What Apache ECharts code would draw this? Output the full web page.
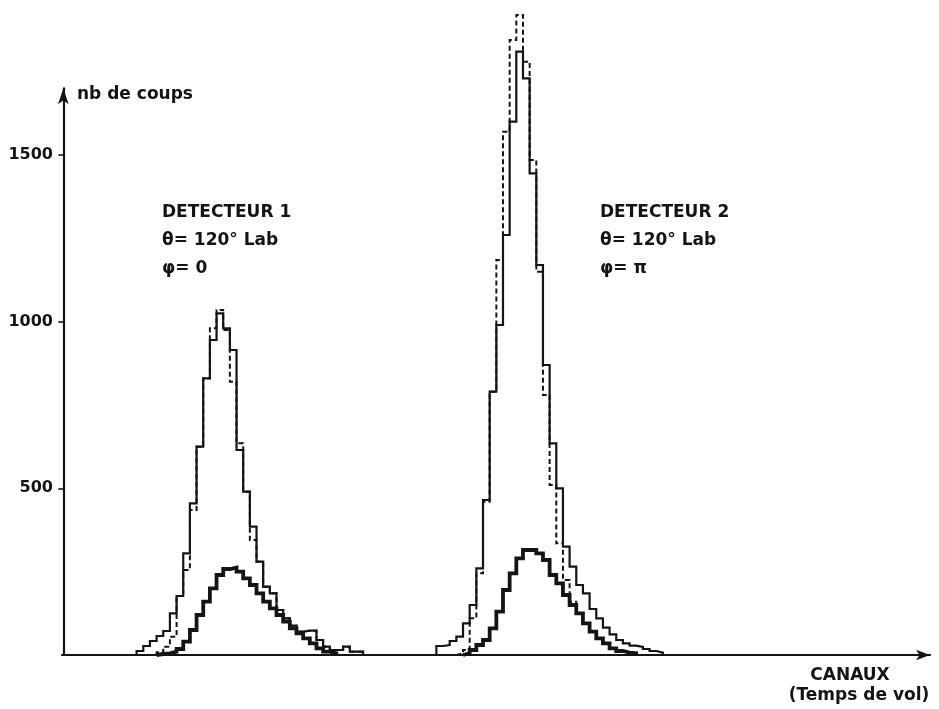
<!DOCTYPE html>
<html><head><meta charset="utf-8">
<script src="https://cdn.jsdelivr.net/npm/echarts@6/dist/echarts.min.js"></script>
<style>html,body{margin:0;padding:0;background:#fff}#c{width:939px;height:709px}</style>
</head><body><div id="c"></div>
<script>
// y tick labels
const yTickValues = [500, 1000, 1500];

// Detector 1 (channel index of first bin edge + counts per channel)
const det1TotalStart = 11;
const det1Total = [12,27,42,57,72,125,177,305,455,625,830,945,1025,980,915,615,490,385,280,205,185,135,110,88,70,73,73,45,25,15,15,25,10,10];
const det1DashedStart = 14;
const det1Dashed = [8,25,55,177,255,435,625,830,980,1035,975,820,635,490,345,280,205,185,135,110,88,70,73,73,45,25,15,15,25,10,10];
const det1ThickStart = 14;
const det1Thick = [3,5,10,18,40,75,120,160,200,240,258,262,250,230,210,185,160,140,120,100,80,65,50,35,20,10,5];

// Detector 2
const det2TotalStart = 56;
const det2Total = [27,30,42,55,95,150,260,465,790,990,1260,1600,1810,1730,1445,1170,870,635,500,325,265,210,185,138,110,82,62,45,35,28,24,18,12,7];
const det2DashedStart = 59;
const det2Dashed = [5,15,110,245,460,790,1185,1570,1845,1920,1780,1485,1150,780,510,335,225,160,125,95,70,50,35,20,12,7,5];
const det2ThickStart = 60;
const det2Thick = [5,15,30,45,80,130,195,245,290,315,315,305,285,240,215,180,150,125,95,70,50,35,20,12,7,5];

const FONT = '"DejaVu Sans", sans-serif';
const INK = '#141414';

function steps(start, vals) {
  const pts = [[start, 0]];
  vals.forEach((v, i) => pts.push([start + i, v]));
  pts.push([start + vals.length, 0]);
  return pts;
}
function hist(start, vals, kind) {
  const ls = kind === 'thick' ? {width: 3.8, type: 'solid'}
           : kind === 'dashed' ? {width: 2, type: [5, 3]}
           : {width: 2.2, type: 'solid'};
  return {
    type: 'line', step: 'end', symbol: 'none', clip: false, silent: true,
    data: steps(start, vals),
    lineStyle: Object.assign({color: INK, cap: 'butt', join: 'miter'}, ls),
    z: kind === 'thick' ? 4 : kind === 'dashed' ? 2 : 3
  };
}

const chart = echarts.init(document.getElementById('c'), null, {renderer: 'canvas'});
function txt(x, y, text, align) {
  return {type: 'text', silent: true, style: {x: x, y: y, text: text, font: 'bold 17px ' + FONT, fill: INK, align: align || 'left', verticalAlign: 'middle'}};
}
chart.setOption({
  animation: false,
  backgroundColor: '#ffffff',
  grid: {left: 62, right: 9, top: 88.3, bottom: 54},
  xAxis: {
    type: 'value', min: -0.2, max: 130.1,
    axisLine: {show: true, symbol: ['none', 'arrow'], symbolSize: [8, 14], lineStyle: {color: INK, width: 2.2}},
    axisTick: {show: false}, axisLabel: {show: false}, splitLine: {show: false}
  },
  yAxis: {
    type: 'value', min: 0, max: 1700, interval: 500,
    axisLine: {show: true, symbol: ['none', 'arrow'], symbolSize: [8, 16], lineStyle: {color: INK, width: 2.2}},
    axisTick: {show: true, length: 5, customValues: yTickValues, lineStyle: {color: INK, width: 1.6}},
    axisLabel: {customValues: yTickValues, formatter: v => String(v), color: INK, fontFamily: FONT, fontWeight: 'bold', fontSize: 16, margin: 9},
    splitLine: {show: false}
  },
  series: [
    hist(det1DashedStart, det1Dashed, 'dashed'),
    hist(det1TotalStart, det1Total, 'thin'),
    hist(det1ThickStart, det1Thick, 'thick'),
    hist(det2DashedStart, det2Dashed, 'dashed'),
    hist(det2TotalStart, det2Total, 'thin'),
    hist(det2ThickStart, det2Thick, 'thick')
  ],
  graphic: [
    txt(77, 95, 'nb de coups'),
    txt(162, 213, 'DETECTEUR 1'),
    txt(162, 241, 'θ= 120° Lab'),
    txt(162, 269, 'φ= 0'),
    txt(600, 213, 'DETECTEUR 2'),
    txt(600, 241, 'θ= 120° Lab'),
    txt(600, 269, 'φ= π'),
    txt(850, 676, 'CANAUX', 'center'),
    txt(859, 696, '(Temps de vol)', 'center')
  ]
});
</script></body></html>
